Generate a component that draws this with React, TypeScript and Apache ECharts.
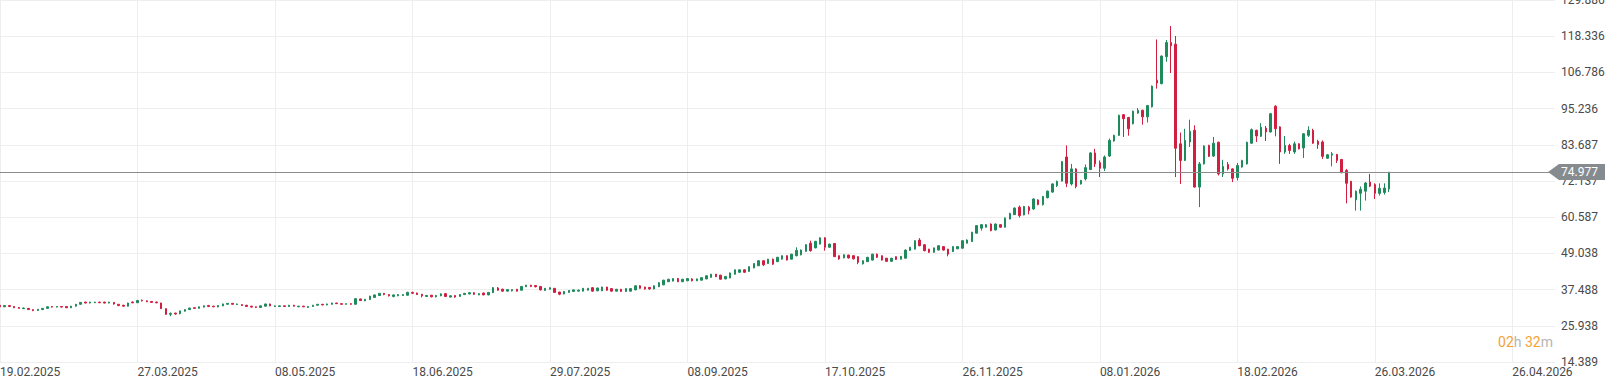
import React, { useEffect, useRef } from 'react';
import * as echarts from 'echarts';

const tickLabels = ['19.02.2025', '27.03.2025', '08.05.2025', '18.06.2025', '29.07.2025', '08.09.2025', '17.10.2025', '26.11.2025', '08.01.2026', '18.02.2026', '26.03.2026', '26.04.2026'];
const yTicks = [14.389, 25.938, 37.488, 49.038, 60.587, 72.137, 83.687, 95.236, 106.786, 118.336, 129.886];
const lastPrice = 74.977;
const timerHours = '02';
const timerMinutes = '32';
const barsPerLabel = 29;
const totalSlots = 329;

// [open, close, low, high]
const ohlc: number[][] = [
  [32.5, 32.0, 31.8, 32.7], [32.0, 32.4, 31.9, 32.6], [32.4, 32.1, 31.9, 32.6], [32.1, 31.7, 31.6, 32.2], [31.8, 31.5, 31.4, 31.9],
  [31.4, 31.6, 31.3, 31.8], [31.5, 31.1, 31.0, 31.6], [31.1, 30.8, 30.6, 31.2], [30.8, 31.2, 30.7, 31.3], [31.1, 31.5, 31.0, 31.6],
  [31.5, 32.0, 31.4, 32.1], [32.1, 31.9, 31.8, 32.2], [31.9, 32.1, 31.8, 32.2], [32.1, 31.9, 31.8, 32.2], [32.1, 31.7, 31.6, 32.2],
  [31.7, 32.2, 31.6, 32.3], [32.2, 32.8, 32.1, 32.9], [32.8, 33.4, 32.7, 33.5], [33.5, 33.2, 33.1, 33.6], [33.2, 33.5, 33.1, 33.6],
  [33.3, 33.5, 33.2, 33.6], [33.5, 33.3, 33.2, 33.6], [33.5, 33.2, 33.1, 33.6], [33.2, 33.5, 33.1, 33.6], [33.4, 32.9, 32.7, 33.5],
  [32.8, 32.4, 32.2, 32.9], [32.5, 32.2, 32.0, 32.6], [32.2, 33.2, 32.1, 33.3], [33.5, 33.3, 33.1, 33.7], [33.3, 34.0, 33.2, 34.2],
  [34.1, 33.9, 33.7, 34.3], [33.9, 33.6, 33.5, 34.0], [33.7, 33.4, 33.3, 33.8], [33.5, 33.3, 33.1, 33.7], [33.2, 31.4, 31.3, 33.3],
  [31.4, 29.6, 29.4, 31.5], [29.6, 29.9, 29.0, 30.2], [30.0, 29.7, 29.5, 30.1], [29.8, 30.7, 29.6, 30.8], [30.6, 31.1, 30.5, 31.2],
  [31.1, 31.6, 31.0, 31.7], [31.7, 31.5, 31.4, 31.8], [31.5, 32.0, 31.4, 32.1], [31.9, 32.3, 31.8, 32.4], [32.4, 32.1, 31.9, 32.6],
  [32.2, 32.0, 31.9, 32.3], [32.0, 32.4, 31.8, 32.5], [32.3, 32.9, 32.2, 33.0], [32.8, 33.1, 32.7, 33.2], [33.1, 32.8, 32.7, 33.2],
  [32.7, 32.9, 32.6, 33.0], [32.7, 32.4, 32.3, 32.8], [32.5, 32.1, 32.0, 32.6], [32.2, 31.9, 31.8, 32.3], [32.0, 31.8, 31.6, 32.1],
  [31.8, 32.3, 31.7, 32.4], [32.2, 32.9, 32.1, 33.0], [32.9, 32.3, 32.2, 33.0], [32.1, 32.3, 32.0, 32.4], [32.1, 32.3, 32.0, 32.4],
  [32.3, 32.1, 32.0, 32.4], [32.1, 32.5, 32.0, 32.6], [32.5, 32.2, 32.1, 32.6], [32.0, 32.2, 31.9, 32.3], [32.2, 32.0, 31.9, 32.3],
  [31.8, 32.1, 31.7, 32.2], [32.1, 32.5, 32.0, 32.6], [32.5, 32.8, 32.4, 32.9], [32.8, 32.6, 32.5, 32.9], [32.6, 32.9, 32.5, 33.0],
  [32.8, 33.2, 32.7, 33.3], [33.2, 33.0, 32.9, 33.3], [33.0, 32.8, 32.7, 33.1], [32.8, 33.0, 32.7, 33.1], [33.0, 32.8, 32.7, 33.1],
  [32.8, 34.6, 32.7, 34.7], [34.5, 34.0, 33.9, 34.6], [33.9, 34.4, 33.8, 34.5], [34.3, 35.4, 34.2, 35.5], [35.0, 35.8, 34.9, 35.9],
  [35.6, 36.3, 35.5, 36.4], [36.3, 35.9, 35.7, 36.4], [35.9, 35.5, 35.3, 36.0], [35.3, 35.8, 35.0, 35.9], [35.5, 35.9, 35.4, 36.0],
  [35.6, 35.9, 35.5, 36.0], [35.7, 36.6, 35.6, 36.8], [36.6, 36.3, 36.1, 36.8], [36.4, 35.9, 35.8, 36.5], [36.0, 35.5, 35.0, 36.1],
  [35.3, 35.6, 35.2, 35.8], [35.7, 35.2, 35.0, 35.8], [35.2, 35.6, 35.0, 35.8], [35.5, 36.1, 35.4, 36.3], [36.2, 35.3, 35.1, 36.3],
  [35.1, 35.5, 35.0, 35.7], [35.6, 35.1, 34.9, 35.7], [35.3, 35.9, 35.2, 36.0], [35.9, 36.3, 35.8, 36.4], [36.1, 36.5, 36.0, 36.6],
  [36.5, 36.0, 35.8, 36.6], [35.8, 36.2, 35.7, 36.3], [36.4, 35.8, 35.7, 36.5], [35.8, 36.6, 35.7, 36.7], [36.5, 38.1, 36.4, 38.3],
  [38.0, 37.3, 37.1, 38.3], [37.6, 37.0, 36.8, 37.8], [37.0, 37.5, 36.9, 37.6], [37.1, 37.5, 36.9, 37.6], [37.6, 37.0, 36.9, 37.7],
  [37.3, 38.5, 37.2, 38.6], [38.4, 38.9, 38.3, 39.0], [38.9, 38.5, 38.3, 39.0], [38.8, 38.4, 38.2, 38.9], [38.5, 37.4, 37.2, 38.6],
  [37.2, 37.9, 37.1, 38.0], [37.6, 38.1, 37.5, 38.2], [37.9, 36.6, 36.5, 38.0], [36.7, 36.0, 35.7, 36.8], [36.1, 36.9, 36.0, 37.0],
  [36.6, 37.2, 36.5, 37.3], [36.9, 37.4, 36.8, 37.5], [37.0, 37.3, 36.9, 37.5], [37.0, 37.9, 36.9, 38.0], [37.3, 37.9, 37.2, 38.0],
  [38.1, 37.0, 36.9, 38.2], [37.1, 38.0, 37.0, 38.1], [37.1, 38.3, 37.0, 38.4], [38.3, 37.3, 37.1, 38.4], [37.8, 37.0, 36.9, 37.9],
  [37.0, 37.6, 36.9, 37.7], [37.6, 36.9, 36.8, 37.7], [36.9, 37.8, 36.8, 37.9], [37.0, 37.8, 36.9, 37.9], [37.4, 38.7, 37.3, 38.8],
  [38.7, 37.9, 37.8, 38.9], [38.3, 37.7, 37.5, 38.4], [38.2, 37.7, 37.5, 38.3], [37.7, 38.7, 37.6, 38.8], [38.4, 39.7, 38.3, 39.8],
  [39.0, 40.5, 38.9, 40.6], [40.0, 40.8, 39.9, 40.9], [40.2, 41.0, 40.1, 41.1], [41.0, 40.0, 39.9, 41.2], [40.0, 40.8, 39.9, 40.9],
  [40.3, 41.0, 40.2, 41.1], [40.9, 40.3, 40.1, 41.1], [40.3, 40.9, 40.2, 41.0], [40.5, 41.3, 40.4, 41.4], [40.9, 41.9, 40.8, 42.0],
  [41.4, 42.4, 41.3, 42.5], [42.4, 41.6, 41.5, 42.5], [42.1, 40.8, 40.7, 42.2], [40.9, 41.7, 40.8, 41.8], [41.2, 42.8, 41.1, 42.9],
  [42.4, 43.8, 42.3, 43.9], [43.0, 43.8, 42.9, 43.9], [43.8, 43.0, 42.9, 43.9], [43.3, 44.8, 43.2, 44.9], [44.4, 45.8, 44.3, 45.9],
  [45.1, 46.7, 45.0, 46.8], [46.7, 45.4, 45.0, 46.8], [45.8, 47.2, 45.7, 47.3], [47.2, 45.6, 45.4, 47.4], [46.4, 47.8, 46.3, 47.9],
  [47.2, 48.3, 47.1, 48.4], [48.3, 46.9, 46.8, 48.4], [47.2, 48.8, 47.1, 48.9], [48.3, 50.0, 48.1, 51.0], [48.6, 50.1, 48.4, 50.3],
  [49.7, 51.8, 49.6, 52.0], [52.3, 49.9, 49.6, 53.1], [50.8, 52.9, 50.7, 53.0], [52.0, 54.0, 51.9, 54.2], [54.0, 51.0, 49.9, 54.2],
  [51.0, 52.0, 50.9, 52.1], [52.2, 48.0, 47.9, 52.3], [48.3, 47.3, 47.0, 48.4], [47.6, 48.6, 47.5, 48.7], [48.5, 47.6, 47.4, 48.6],
  [48.3, 47.3, 47.1, 48.4], [48.0, 46.2, 45.6, 48.1], [45.7, 46.7, 45.5, 46.8], [46.4, 47.8, 46.3, 47.9], [46.9, 48.8, 46.8, 48.9],
  [48.8, 47.8, 47.6, 49.0], [48.3, 46.9, 46.8, 48.4], [47.5, 46.5, 46.4, 47.6], [46.5, 47.5, 46.4, 47.6], [48.0, 47.1, 47.0, 48.1],
  [47.2, 48.1, 47.1, 48.2], [47.5, 50.1, 47.4, 50.3], [50.0, 51.0, 49.9, 51.1], [50.4, 53.1, 50.3, 53.2], [53.3, 51.5, 51.3, 53.9],
  [51.8, 49.9, 49.7, 52.0], [50.4, 49.4, 49.2, 50.5], [49.4, 50.8, 49.3, 50.9], [50.1, 51.5, 50.0, 51.6], [51.2, 50.1, 49.9, 51.4],
  [50.4, 48.8, 48.1, 50.5], [49.6, 51.2, 49.5, 51.3], [50.5, 51.2, 50.4, 51.3], [50.7, 53.1, 50.6, 53.2], [52.3, 53.3, 52.2, 53.5],
  [52.8, 55.8, 52.7, 55.9], [55.5, 57.9, 55.4, 58.1], [57.1, 58.2, 56.3, 58.4], [57.4, 58.2, 57.3, 58.4], [58.4, 56.3, 56.1, 58.6],
  [56.5, 58.4, 56.4, 58.6], [58.2, 57.4, 57.2, 58.4], [57.4, 60.3, 57.3, 60.5], [60.0, 61.8, 59.9, 62.0], [61.4, 63.5, 61.3, 63.7],
  [63.8, 61.1, 60.5, 64.3], [61.3, 64.0, 61.2, 64.2], [63.8, 62.7, 61.5, 64.2], [63.2, 66.4, 63.0, 66.6], [66.1, 64.6, 64.4, 66.3],
  [64.6, 67.2, 64.3, 67.4], [66.8, 68.9, 66.6, 69.1], [68.6, 71.2, 68.4, 71.4], [70.7, 72.0, 70.2, 72.3], [72.1, 78.3, 72.0, 78.5],
  [79.8, 71.4, 70.2, 83.5], [71.2, 76.0, 70.7, 77.6], [76.0, 70.4, 69.8, 76.2], [71.2, 72.3, 71.0, 72.5], [72.8, 76.4, 72.3, 77.4],
  [75.8, 81.1, 75.6, 81.3], [81.1, 77.6, 76.6, 82.4], [78.0, 76.2, 73.4, 78.7], [76.2, 79.8, 75.3, 80.3], [80.1, 85.1, 79.8, 85.7],
  [84.9, 86.7, 84.7, 86.9], [86.7, 93.1, 86.5, 93.3], [93.3, 92.0, 86.2, 93.5], [92.4, 88.8, 86.6, 92.6], [90.4, 94.4, 90.2, 94.6],
  [93.8, 94.7, 93.6, 95.4], [94.7, 92.6, 90.1, 94.9], [92.6, 96.2, 90.8, 96.4], [95.8, 102.4, 95.6, 102.6], [104.3, 103.4, 101.6, 117.3],
  [103.2, 112.0, 103.0, 112.2], [111.8, 116.3, 110.2, 117.1], [116.3, 115.3, 106.6, 121.6], [115.8, 82.6, 73.4, 118.4], [84.0, 78.7, 71.2, 87.6],
  [78.7, 85.1, 78.5, 88.8], [84.6, 88.0, 83.0, 91.7], [88.3, 70.2, 70.0, 89.9], [70.2, 77.6, 63.8, 78.2], [77.6, 83.3, 77.4, 83.5],
  [83.5, 80.0, 79.8, 83.7], [80.1, 84.2, 79.8, 86.2], [84.5, 74.4, 73.9, 84.7], [74.4, 76.8, 73.4, 78.9], [77.4, 76.0, 75.5, 78.2],
  [76.0, 73.0, 71.8, 76.2], [73.2, 77.1, 72.3, 77.9], [76.6, 78.7, 76.4, 78.9], [77.6, 84.5, 77.4, 84.7], [84.2, 88.5, 84.0, 88.9],
  [88.3, 86.5, 84.6, 88.5], [86.4, 89.3, 86.2, 90.6], [89.0, 87.8, 84.9, 89.7], [87.8, 93.6, 87.6, 93.8], [96.0, 88.8, 86.4, 96.3],
  [89.4, 81.4, 77.6, 89.6], [81.4, 83.5, 80.8, 86.5], [83.5, 81.9, 80.8, 84.0], [81.4, 84.0, 80.8, 84.7], [84.0, 82.4, 82.2, 84.2],
  [82.7, 87.2, 79.5, 87.4], [86.7, 88.3, 86.2, 89.6], [88.3, 84.2, 84.0, 88.8], [84.8, 83.8, 82.4, 85.3], [84.6, 80.0, 79.2, 85.1],
  [79.4, 80.5, 79.2, 80.7], [80.4, 80.8, 76.8, 81.4], [80.6, 78.7, 77.9, 80.8], [79.0, 74.8, 74.6, 79.2], [75.5, 71.4, 65.0, 76.0],
  [72.0, 67.0, 66.8, 72.2], [66.1, 68.9, 62.7, 69.1], [68.2, 69.5, 62.7, 70.4], [68.9, 71.5, 65.9, 71.8], [71.8, 70.5, 70.2, 74.4],
  [71.0, 68.2, 66.4, 71.4], [68.2, 69.8, 67.5, 71.4], [68.5, 69.9, 67.8, 71.4], [69.6, 74.977, 68.6, 74.977],
];

const slots = Array.from({ length: totalSlots }, (_, i) => String(i));

const GREEN = '#1f8a5c';
const RED = '#d01f40';
const LABEL = '#4a4a4a';
const GRID = '#eeeeee';
const FONT = 'Roboto, sans-serif';

export default function App() {
  const ref = useRef<HTMLDivElement>(null);
  useEffect(() => {
    if (!ref.current) return;
    const chart = echarts.init(ref.current, null, { renderer: 'svg' });
    chart.setOption({
      animation: false,
      backgroundColor: '#ffffff',
      grid: { left: 0, right: 50, top: 0, bottom: 25, containLabel: false, outerBoundsMode: 'none' },
      xAxis: {
        type: 'category',
        data: slots,
        boundaryGap: false,
        axisLine: { show: false },
        axisTick: { show: false, interval: barsPerLabel - 1 },
        axisLabel: {
          interval: barsPerLabel - 1,
          align: 'left',
          margin: 4,
          color: LABEL,
          fontSize: 12,
          fontFamily: FONT,
          formatter: (_v: string, i: number) => tickLabels[Math.round(i / barsPerLabel)] ?? '',
        },
        splitLine: { show: true, interval: barsPerLabel - 1, lineStyle: { color: GRID, width: 1 } },
      },
      yAxis: {
        type: 'value',
        position: 'right',
        min: yTicks[0],
        max: yTicks[yTicks.length - 1],
        axisLine: { show: false },
        axisTick: { show: false, customValues: yTicks },
        axisLabel: {
          customValues: yTicks,
          formatter: (v: number) => v.toFixed(3),
          margin: 6,
          color: LABEL,
          fontSize: 12,
          fontFamily: FONT,
        },
        splitLine: { show: true, lineStyle: { color: GRID, width: 1 } },
      },
      series: [
        {
          type: 'candlestick',
          data: ohlc,
          barWidth: 2,
          itemStyle: { color: GREEN, color0: RED, borderColor: GREEN, borderColor0: RED, borderWidth: 1 },
          markLine: {
            silent: true,
            symbol: ['none', 'none'],
            label: { show: false },
            lineStyle: { color: '#8c8c8c', width: 1, type: 'solid' },
            data: [{ yAxis: lastPrice }],
          },
        },
      ],
    });

    const y = chart.convertToPixel({ yAxisIndex: 0 }, lastPrice) as number;
    const W = chart.getWidth();
    const H = chart.getHeight();
    const gridRight = W - 50;
    chart.setOption({
      graphic: [
        {
          type: 'polygon',
          z: 100,
          shape: {
            points: [
              [gridRight - 7, y],
              [gridRight + 4, y - 8],
              [W, y - 8],
              [W, y + 8],
              [gridRight + 4, y + 8],
            ],
          },
          style: { fill: '#868b90' },
        },
        {
          type: 'text',
          z: 101,
          x: gridRight + 6,
          y: y,
          style: { text: lastPrice.toFixed(3), fill: '#ffffff', font: `12px ${FONT}`, verticalAlign: 'middle', align: 'left' },
        },
        {
          type: 'text',
          z: 101,
          x: gridRight - 2,
          y: H - 45,
          style: {
            text: `{o|${timerHours}}{g|h} {o|${timerMinutes}}{g|m}`,
            align: 'right',
            verticalAlign: 'middle',
            font: `14px ${FONT}`,
            rich: {
              o: { fill: '#f4a234', font: `14px ${FONT}` },
              g: { fill: '#b5b5b5', font: `14px ${FONT}` },
            },
          },
        },
      ],
    });
    return () => chart.dispose();
  }, []);
  return <div ref={ref} style={{ position: 'fixed', left: 0, top: 0, width: 1605, height: 387 }} />;
}
